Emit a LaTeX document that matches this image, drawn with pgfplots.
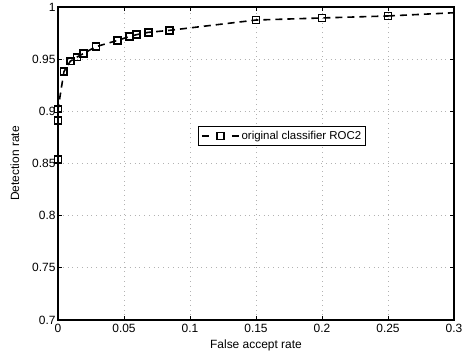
\documentclass[border=0pt]{standalone}
\usepackage{pgfplots}
\pgfplotsset{compat=1.18}
\usepackage{fontspec}
\setmainfont{Liberation Sans}
\begin{document}
\begin{tikzpicture}
\useasboundingbox (-58bp,-39bp) rectangle (416bp,320bp);
\begin{axis}[
  at={(0,0)}, anchor=south west,
  scale only axis, width=396bp, height=313bp,
  xmin=0, xmax=0.3, ymin=0.7, ymax=1,
  xtick={0,0.05,...,0.3}, ytick={0.7,0.75,...,1},
  xticklabels={0,0.05,0.1,0.15,0.2,0.25,0.3},
  yticklabels={0.7,0.75,0.8,0.85,0.9,0.95,1},
  tick align=inside, tick pos=both,
  major tick length=4bp,
  grid=major,
  major grid style={gray!60, dash pattern=on 0.8pt off 4pt, line width=0.7pt},
  axis line style={line width=1.2pt},
  every tick/.style={black, line width=0.7pt},
  tick label style={font=\fontsize{12}{14}\selectfont},
  xticklabel style={yshift=-0.5bp},
  yticklabel style={xshift=1bp},
  label style={font=\fontsize{12}{14}\selectfont},
  xlabel={False accept rate}, ylabel={Detection rate},
  xlabel style={at={(axis description cs:0.5,-0.082)}, anchor=center},
  ylabel style={at={(axis description cs:-0.109,0.5)}, anchor=center},
  legend style={at={(0.566,0.588)}, anchor=center, font=\fontsize{11.5}{13}\selectfont, draw=black, line width=1.1pt, inner sep=2.5pt},
  legend image code/.code={
    \draw[#1, solid, mark=none] (0bp,0bp) -- (7bp,0bp);
    \draw[#1, solid, mark=none] (30bp,0bp) -- (37bp,0bp);
    \draw[#1] plot coordinates {(18.5bp,0bp)};},
  legend cell align=left,
]
\addplot[black, line width=1.6pt, dash pattern=on 7bp off 5bp, forget plot]
  coordinates {(0,0.6) (0,0.854)};
\addplot[black, line width=1.6pt, dash pattern=on 7bp off 5bp, mark=square, mark size=3.4bp,
  mark options={solid, line width=1.7pt, fill=white}]
  coordinates {
  (0,0.854) (0,0.891) (0,0.902) (0.0045,0.938) (0.0093,0.948) (0.0144,0.952)
  (0.0195,0.9556) (0.0288,0.962) (0.0452,0.968) (0.054,0.9716) (0.0596,0.9735)
  (0.0684,0.9757) (0.0843,0.9776) (0.15,0.9875) (0.2,0.9895) (0.25,0.9914)
  };
\addlegendentry{original classifier ROC2}
\addplot[black, line width=1.6pt, dash pattern=on 7bp off 5bp, forget plot]
  coordinates {(0.25,0.9914) (0.35,0.9976)};
\end{axis}
\end{tikzpicture}
\end{document}
